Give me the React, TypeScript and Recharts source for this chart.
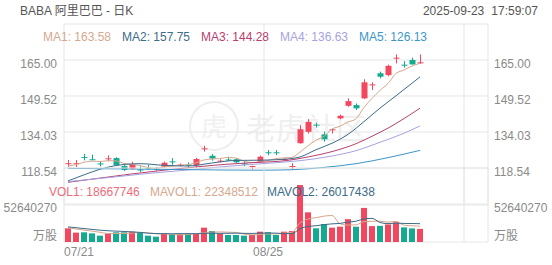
import { ComposedChart, Bar, Line, XAxis, YAxis, CartesianGrid, ReferenceLine, Cell } from "recharts";

// 日K 阿里巴巴 BABA
const FONT = "'Liberation Sans', Arial, 'Noto Sans CJK SC', sans-serif";
const RED = "#F2475F";
const GREEN = "#14AA92";
const GRID = "#e6e6e6";
const AXIS_TEXT = "#8a8a8a";

const dates = [
  "07/21", "07/22", "07/23", "07/24", "07/25", "07/28", "07/29", "07/30", "07/31", "08/01",
  "08/04", "08/05", "08/06", "08/07", "08/08", "08/11", "08/12", "08/13", "08/14", "08/15",
  "08/18", "08/19", "08/20", "08/21", "08/22", "08/25", "08/26", "08/27", "08/28", "08/29",
  "09/02", "09/03", "09/04", "09/05", "09/08", "09/09", "09/10", "09/11", "09/12", "09/15",
  "09/16", "09/17", "09/18", "09/19", "09/22",
];

const opens = [
  120.4, 120.4, 123.3, 122.3, 120.5, 122.5, 122.8, 119.4, 118.2, 117.9,
  118.6, 118.2, 119.1, 121.4, 119.4, 120.0, 119.8, 126.8, 123.8, 121.5,
  122.2, 122.3, 120.5, 119.2, 121.2, 125.3, 125.3, 121.9, 119.2, 129.2,
  134.1, 137.2, 133.0, 134.9, 139.9, 145.3, 145.6, 148.5, 154.3, 159.3,
  158.5, 165.8, 163.0, 165.0, 163.8,
];
const highs = [
  122.0, 122.0, 124.6, 124.3, 121.6, 124.0, 123.2, 119.8, 121.2, 119.3,
  119.9, 119.0, 121.3, 122.8, 120.5, 121.0, 122.9, 128.1, 124.6, 122.3,
  123.4, 122.8, 121.5, 119.5, 123.9, 126.3, 126.3, 122.8, 120.6, 137.0,
  139.5, 138.0, 134.2, 135.4, 141.5, 148.5, 146.3, 156.7, 155.4, 160.0,
  163.0, 167.4, 164.5, 166.0, 167.4,
];
const lows = [
  119.0, 119.0, 121.8, 121.9, 119.2, 121.4, 119.5, 117.3, 117.8, 116.8,
  117.7, 117.3, 118.7, 119.9, 119.2, 118.8, 118.8, 125.6, 121.7, 121.0,
  121.6, 120.6, 119.3, 117.9, 120.8, 124.0, 124.1, 121.6, 118.0, 129.0,
  133.4, 135.9, 129.9, 133.4, 139.5, 144.9, 143.5, 148.2, 152.1, 157.1,
  158.0, 163.5, 161.7, 163.0, 163.4,
];
const closes = [
  120.6, 120.6, 123.1, 122.0, 120.3, 122.7, 119.8, 117.7, 120.1, 117.7,
  118.4, 118.0, 120.8, 121.2, 120.0, 119.8, 122.4, 127.0, 122.6, 121.7,
  121.9, 121.0, 120.3, 119.4, 123.4, 125.1, 125.0, 122.4, 119.4, 135.2,
  138.4, 137.0, 130.9, 135.2, 141.0, 147.3, 144.2, 155.4, 154.5, 157.8,
  162.5, 166.0, 162.8, 163.1, 164.0,
];
const volumes = [
  19500000, 13300000, 13800000, 12300000, 9000000, 11900000, 13800000, 13800000, 14700000, 13800000,
  9000000, 7600000, 12300000, 10900000, 10900000, 11900000, 12300000, 20400000, 15600000, 11900000,
  10000000, 10000000, 9000000, 10000000, 14700000, 14000000, 10000000, 14700000, 15600000, 81000000,
  42200000, 19500000, 25600000, 20400000, 21800000, 32500000, 21800000, 48500000, 22600000, 23000000,
  25000000, 28000000, 20800000, 19300000, 18667746,
];

// MA lines
const ma1 = [
  119.4, 120.0, 121.0, 121.5, 121.3, 121.7, 121.6, 120.5, 120.1, 119.6,
  118.7, 118.4, 119.0, 119.3, 119.7, 120.0, 120.8, 122.0, 122.4, 122.6,
  123.1, 122.8, 121.5, 120.9, 121.2, 121.8, 122.6, 122.9, 123.1, 125.4,
  128.1, 130.5, 132.2, 135.3, 136.5, 138.3, 139.7, 144.6, 148.5, 151.9,
  154.9, 159.2, 160.7, 162.4, 163.58,
];
const ma2Points = [
  [0, 113.0], [2, 115.6], [4, 118.0], [6, 119.6], [9, 120.4], [12, 119.7], [15, 119.4],
  [18, 120.7], [21, 121.8], [24, 121.9], [27, 122.3], [29, 123.3], [31, 126.4], [33, 129.2],
  [35, 133.0], [37, 138.5], [39, 144.3], [41, 149.6], [43, 155.0], [44, 157.75],
];
const ma3Points = [
  [0, 112.4], [4, 114.2], [8, 116.0], [12, 117.6], [16, 119.0], [20, 120.2], [24, 121.0],
  [27, 121.6], [30, 123.3], [33, 125.6], [36, 129.0], [38, 132.2], [40, 135.7], [42, 139.8],
  [44, 144.28],
];
const ma4Points = [
  [0, 112.7], [5, 114.4], [10, 116.2], [15, 117.7], [20, 119.3], [25, 120.6], [29, 121.7],
  [33, 123.7], [36, 126.0], [39, 129.6], [42, 133.5], [44, 136.63],
];
const ma5Points = [
  [0, 118.4], [8, 118.1], [16, 117.8], [24, 117.6], [28, 117.8], [32, 118.8], [36, 120.4],
  [40, 123.0], [44, 126.13],
];

// 成交量均线 (百万股)
const mavol1 = [
  20.5, 18.5, 17.0, 15.5, 13.8, 12.1, 12.2, 12.2, 12.6, 13.6,
  13.0, 11.8, 11.5, 10.7, 10.1, 10.7, 11.7, 13.3, 14.2, 14.4,
  14.0, 13.6, 11.3, 10.2, 10.7, 11.5, 11.5, 12.7, 13.8, 27.1,
  32.7, 34.6, 36.8, 37.7, 25.9, 24.0, 24.4, 29.0, 29.4, 29.7,
  28.2, 29.4, 23.9, 23.2, 22.348512,
];
const mavol2 = [
  21.5, 20.3, 19.1, 18.0, 16.8, 16.0, 15.5, 15.0, 14.4, 13.7,
  12.5, 12.0, 11.8, 11.7, 11.9, 11.9, 11.7, 12.4, 12.5, 12.3,
  12.4, 12.6, 12.3, 12.2, 12.6, 12.8, 12.6, 12.0, 12.0, 18.9,
  22.1, 23.1, 24.7, 25.8, 26.5, 28.3, 29.5, 32.9, 33.6, 27.8,
  26.1, 26.9, 26.4, 26.3, 26.017438,
];

const priceTicks = [118.54, 134.03, 149.52, 165.0];
const volTicks = [0, 52640270];
const xTicks = [0, 25];
const gridX = [-0.5, 24.5, 49.5, 52.5];

const legendMA = [
  { label: "MA1: 163.58", color: "#D6A88E", x: 43 },
  { label: "MA2: 157.75", color: "#3D6C89", x: 122 },
  { label: "MA3: 144.28", color: "#B8416E", x: 201 },
  { label: "MA4: 136.63", color: "#A5A3E0", x: 280 },
  { label: "MA5: 126.13", color: "#3A97C9", x: 359 },
];
const legendVol = [
  { label: "VOL1: 18667746", color: "#EF6B7B", x: 49 },
  { label: "MAVOL1: 22348512", color: "#D6A88E", x: 150 },
  { label: "MAVOL2: 26017438", color: "#3D6C89", x: 267 },
];

const fromPoints = (pts: number[][]) => {
  const out: (number | null)[] = dates.map(() => null);
  pts.forEach(([i, v]) => (out[i] = v));
  return out;
};
const ma2 = fromPoints(ma2Points);
const ma3 = fromPoints(ma3Points);
const ma4 = fromPoints(ma4Points);
const ma5 = fromPoints(ma5Points);

const rows = dates.map((d, i) => ({
  i,
  date: d,
  open: opens[i],
  high: highs[i],
  low: lows[i],
  close: closes[i],
  range: [lows[i], highs[i]],
  volume: volumes[i],
  ma1: ma1[i],
  ma2: ma2[i],
  ma3: ma3[i],
  ma4: ma4[i],
  ma5: ma5[i],
  mavol1: mavol1[i] * 1e6,
  mavol2: mavol2[i] * 1e6,
}));

// ローソク足 (range bar を使って高値・安値の位置を取る)
function Candle(props: any) {
  const { x, y, width, height, payload } = props;
  if (!payload || x == null || y == null) return null;
  const { open, close, high, low } = payload;
  const top = Math.min(y, y + height);
  const h = Math.abs(height);
  const k = high === low ? 0 : h / (high - low);
  const py = (v: number) => top + (high - v) * k;
  const color = close >= open ? RED : GREEN;
  const px = Math.floor(x + width / 2);
  const bodyTop = py(Math.max(open, close));
  const bodyH = Math.max(1, py(Math.min(open, close)) - bodyTop);
  return (
    <g>
      <line x1={px + 0.5} x2={px + 0.5} y1={top} y2={top + h} stroke={color} strokeWidth={1} />
      <rect x={px - 2.5} y={bodyTop} width={6} height={bodyH} fill={color} />
    </g>
  );
}

const priceTick = (side: "l" | "r") => (p: any) => (
  <text
    x={side === "l" ? 57 : 494}
    y={p.y + 7.7}
    textAnchor={side === "l" ? "end" : "start"}
    fill={AXIS_TEXT}
    fontSize={12}
    fontFamily={FONT}
  >
    {Number(p.payload.value).toFixed(2)}
  </text>
);

const volTick = (side: "l" | "r") => (p: any) => {
  const v = p.payload.value;
  return (
    <text
      x={side === "l" ? 57 : 494}
      y={v === 0 ? p.y - 2.5 : p.y + 6.7}
      textAnchor={side === "l" ? "end" : "start"}
      fill={AXIS_TEXT}
      fontSize={12}
      fontFamily={FONT}
    >
      {v === 0 ? "万股" : String(v)}
    </text>
  );
};

const dateTick = (p: any) => {
  const v = p.payload.value;
  return (
    <text
      x={v === 0 ? 64 : p.x}
      y={256}
      textAnchor={v === 0 ? "start" : "middle"}
      fill={AXIS_TEXT}
      fontSize={12}
      fontFamily={FONT}
    >
      {dates[v]}
    </text>
  );
};

const layer: any = { position: "absolute", left: 0, top: 0 };

export default function App() {
  return (
    <div style={{ position: "absolute", left: 0, top: 0, width: 552, height: 265, background: "#fff", overflow: "hidden" }}>
      {/* 透かし */}
      <svg width={552} height={265} style={layer}>
        <circle cx={214} cy={126} r={24} fill="none" stroke="#eeeeee" strokeWidth={2} />
        <text x={214} y={136} textAnchor="middle" fontSize={26} fill="#f1f1f1" fontFamily={FONT}>虎</text>
        <text x={246} y={139} fontSize={30} fill="#efefef" fontFamily="'Noto Sans CJK SC', sans-serif">老虎社区</text>
      </svg>

      {/* 価格チャート */}
      <div style={layer}>
        <ComposedChart width={552} height={265} data={rows} margin={{ top: 24, right: 0, bottom: 61, left: 0 }}>
          <XAxis type="number" dataKey="i" domain={[-0.5, 52.5]} hide />
          <YAxis
            domain={[103.06, 180.48]}
            ticks={priceTicks}
            width={64}
            axisLine={false}
            tickLine={false}
            tick={priceTick("l")}
            allowDataOverflow
          />
          <YAxis
            yAxisId="r"
            orientation="right"
            domain={[103.06, 180.48]}
            ticks={priceTicks}
            width={64}
            axisLine={false}
            tickLine={false}
            tick={priceTick("r")}
            allowDataOverflow
          />
          <CartesianGrid vertical={false} stroke={GRID} />
          {gridX.map((gx) => (
            <ReferenceLine key={gx} x={gx} stroke={GRID} />
          ))}
          <Bar dataKey="range" barSize={6} shape={(p: any) => <Candle {...p} />} isAnimationActive={false} />
          <Line dataKey="ma1" type="monotone" stroke="#D6A88E" strokeWidth={1} dot={false} connectNulls isAnimationActive={false} />
          <Line dataKey="ma2" type="monotone" stroke="#3D6C89" strokeWidth={1} dot={false} connectNulls isAnimationActive={false} />
          <Line dataKey="ma3" type="monotone" stroke="#B8416E" strokeWidth={1} dot={false} connectNulls isAnimationActive={false} />
          <Line dataKey="ma4" type="monotone" stroke="#A5A3E0" strokeWidth={1} dot={false} connectNulls isAnimationActive={false} />
          <Line dataKey="ma5" type="monotone" stroke="#3A97C9" strokeWidth={1} dot={false} connectNulls isAnimationActive={false} />
        </ComposedChart>
      </div>

      {/* 出来高 */}
      <div style={layer}>
        <ComposedChart width={552} height={265} data={rows} margin={{ top: 168, right: 0, bottom: 0, left: 0 }}>
          <XAxis
            type="number"
            dataKey="i"
            domain={[-0.5, 52.5]}
            ticks={xTicks}
            interval={0}
            height={23}
            axisLine={false}
            tickLine={false}
            tick={dateTick}
          />
          <YAxis
            domain={[0, 105280540]}
            ticks={volTicks}
            width={64}
            axisLine={false}
            tickLine={false}
            tick={volTick("l")}
            allowDataOverflow
          />
          <YAxis
            yAxisId="r"
            orientation="right"
            domain={[0, 105280540]}
            ticks={volTicks}
            width={64}
            axisLine={false}
            tickLine={false}
            tick={volTick("r")}
            allowDataOverflow
          />
          <CartesianGrid vertical={false} stroke={GRID} />
          {gridX.map((gx) => (
            <ReferenceLine key={gx} x={gx} stroke={GRID} />
          ))}
          <Bar dataKey="volume" barSize={6} isAnimationActive={false}>
            {rows.map((r) => (
              <Cell key={r.i} fill={r.close >= r.open ? RED : GREEN} />
            ))}
          </Bar>
          <Line dataKey="mavol1" type="monotone" stroke="#D6A88E" strokeWidth={1} dot={false} isAnimationActive={false} />
          <Line dataKey="mavol2" type="monotone" stroke="#3D6C89" strokeWidth={1} dot={false} isAnimationActive={false} />
        </ComposedChart>
      </div>

      {/* 見出し・凡例 */}
      <svg width={552} height={265} style={{ ...layer, pointerEvents: "none" }} fontFamily={FONT} fontSize={12}>
        <text x={20} y={15} fill="#555">BABA 阿里巴巴 - 日K</text>
        <text x={538} y={15} fill="#555" textAnchor="end">
          <tspan>2025-09-23</tspan>
          <tspan dx={7}>17:59:07</tspan>
        </text>
        {legendMA.map((m) => (
          <text key={m.label} x={m.x} y={41} fill={m.color}>{m.label}</text>
        ))}
        {legendVol.map((m) => (
          <text key={m.label} x={m.x} y={196} fill={m.color}>{m.label}</text>
        ))}
      </svg>
    </div>
  );
}
